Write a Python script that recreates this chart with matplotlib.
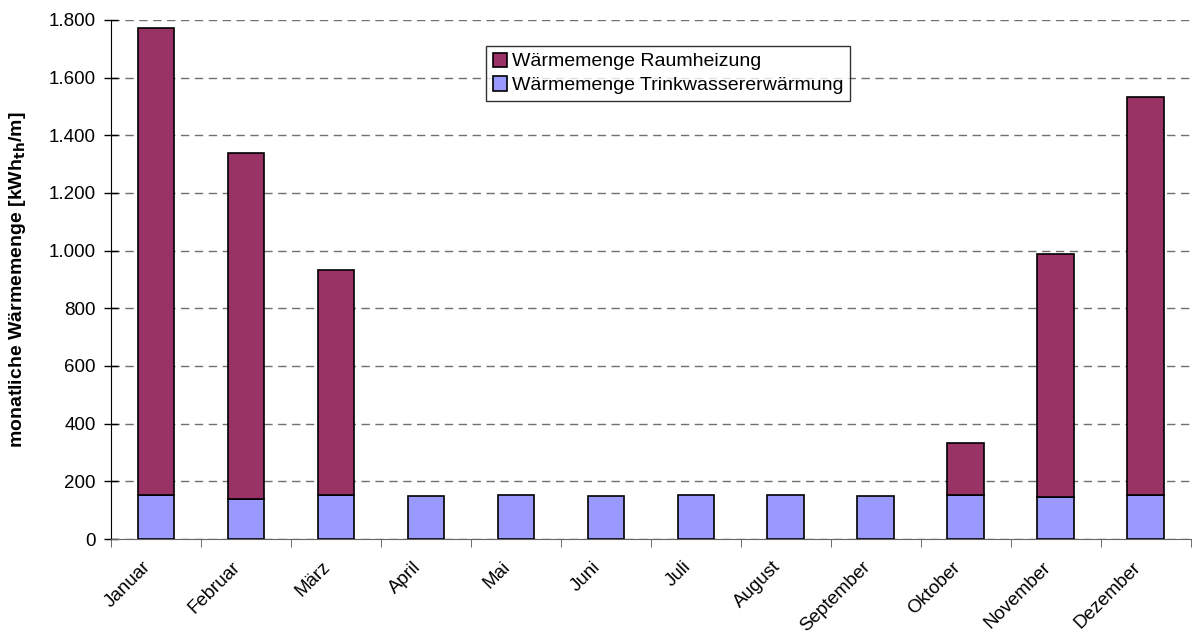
#!/usr/bin/env python3
"""Monatliche Wärmemenge: Raumheizung und Trinkwassererwärmung (gestapelt)."""

import matplotlib
matplotlib.use("Agg")
import matplotlib.pyplot as plt
import matplotlib.transforms as mtransforms
import numpy as np

plt.rcParams["font.family"] = ["Liberation Sans", "DejaVu Sans"]

MONTHS = ["Januar", "Februar", "März", "April", "Mai", "Juni", "Juli",
          "August", "September", "Oktober", "November", "Dezember"]
TRINKWASSER = [152, 139, 152, 149, 154, 149, 154, 154, 149, 152, 146, 152]
RAUMHEIZUNG = [1620, 1200, 781, 0, 0, 0, 0, 0, 0, 180, 842, 1381]
Y_TICKS = [0, 200, 400, 600, 800, 1000, 1200, 1400, 1600, 1800]
Y_TICK_LABELS = ["0", "200", "400", "600", "800", "1.000", "1.200",
                 "1.400", "1.600", "1.800"]

COL_RAUM = "#993366"
COL_TRINK = "#9999FF"
FS = 13.5


def main():
    fig = plt.figure(figsize=(11.92, 6.36), dpi=100)
    ax = fig.add_axes([0.0931, 0.1525, 0.906, 0.8161])

    x = np.arange(len(MONTHS))
    width = 0.41
    ax.bar(x, TRINKWASSER, width, color=COL_TRINK, edgecolor="black",
           linewidth=1.2, label="Wärmemenge Trinkwassererwärmung", zorder=3)
    raum = np.array(RAUMHEIZUNG)
    mask = raum > 0
    ax.bar(x[mask], raum[mask], width, bottom=np.array(TRINKWASSER)[mask],
           color=COL_RAUM, edgecolor="black", linewidth=1.2,
           label="Wärmemenge Raumheizung", zorder=3)

    ax.set_xlim(-0.5, len(MONTHS) - 0.5)
    ax.set_ylim(0, 1800)
    ax.set_yticks(Y_TICKS)
    ax.set_yticklabels(Y_TICK_LABELS, fontsize=FS)
    ax.yaxis.grid(True, linestyle=(0, (6, 4)), color="#707070", linewidth=1.0,
                  zorder=0)
    ax.set_axisbelow(True)

    ax.set_xticks(x)
    ax.set_xticklabels(MONTHS, rotation=45, ha="right", rotation_mode="anchor",
                       fontsize=FS)
    ax.tick_params(axis="x", which="major", length=0, pad=14)
    shift = mtransforms.ScaledTranslation(-14 / 100, 0, fig.dpi_scale_trans)
    for lbl in ax.get_xticklabels():
        lbl.set_transform(lbl.get_transform() + shift)
    ax.set_xticks(np.arange(-0.5, len(MONTHS), 1.0), minor=True)
    ax.tick_params(axis="x", which="minor", length=6, direction="out",
                   color="#555555")
    ax.tick_params(axis="y", direction="inout", length=10, width=1, pad=6)

    for side in ["top", "right"]:
        ax.spines[side].set_visible(False)
    ax.spines["left"].set_color("black")
    ax.spines["bottom"].set_color("#666666")

    ax.set_ylabel("monatliche Wärmemenge [kWh$_\\mathbf{th}$/m]",
                  fontsize=14, fontweight="bold")
    ax.yaxis.set_label_coords(-0.077, 0.5)

    handles, labels = ax.get_legend_handles_labels()
    leg = ax.legend(handles[::-1], labels[::-1], loc="upper left",
                    bbox_to_anchor=(0.338, 0.969), fontsize=14,
                    frameon=True, fancybox=False, edgecolor="black",
                    handlelength=0.75, handleheight=0.75, handletextpad=0.25,
                    borderpad=0.35, labelspacing=0.3)
    leg.get_frame().set_linewidth(1.0)

    fig.savefig("out.png", dpi=100)


if __name__ == "__main__":
    main()
